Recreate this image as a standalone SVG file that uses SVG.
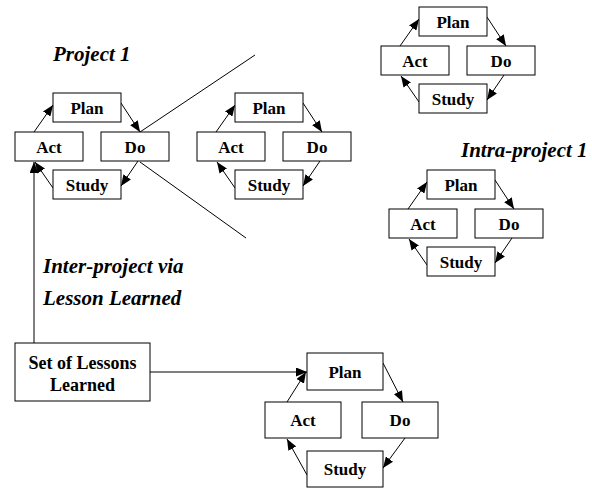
<svg xmlns="http://www.w3.org/2000/svg" width="592" height="489" viewBox="0 0 592 489">
<defs>
<style>
.box{fill:#fff;stroke:#000;stroke-width:1}
.t{font-family:"Liberation Serif","Times New Roman",serif;font-weight:bold;font-size:17px;text-anchor:middle;fill:#000}
.lbl{font-family:"Liberation Serif","Times New Roman",serif;font-weight:bold;font-style:italic;font-size:21px;fill:#000}
.c{fill:none;stroke:#000;stroke-width:1}
.a{fill:none;stroke:#000;stroke-width:1;marker-end:url(#ah)}
</style>
<marker id="ah" viewBox="0 0 11 9" refX="11" refY="4.5" markerWidth="11" markerHeight="9" orient="auto" markerUnits="userSpaceOnUse">
<path d="M0,0 L11,4.5 L0,9 z" fill="#000"/>
</marker>
</defs>
<rect width="592" height="489" fill="#fff"/>

<g id="labels">
<text class="lbl" x="53" y="61">Project 1</text>
<text class="lbl" x="43" y="273">Inter-project via</text>
<text class="lbl" x="43" y="305">Lesson Learned</text>
<text class="lbl" x="461" y="157">Intra-project 1</text>
</g>

<g id="connectors">
<path class="c" d="M140,132 L255,55"/>
<path class="c" d="M140,162 L246,238"/>
<path class="a" d="M34,343 L34,162"/>
<path class="a" d="M150,372 L307,372"/>
<g id="c1-links">
<path class="a" d="M34,132 L53,105"/>
<path class="a" d="M121,103 L140,132"/>
<path class="a" d="M138,161 L121,186"/>
<path class="a" d="M53,188 L35,162"/>
</g>
<g id="c2-links" transform="translate(182,0)">
<path class="a" d="M34,132 L53,105"/>
<path class="a" d="M121,103 L140,132"/>
<path class="a" d="M138,161 L121,186"/>
<path class="a" d="M53,188 L35,162"/>
</g>
<g id="c3-links" transform="translate(366,-86)">
<path class="a" d="M34,132 L53,105"/>
<path class="a" d="M121,103 L140,132"/>
<path class="a" d="M138,161 L121,186"/>
<path class="a" d="M53,188 L35,162"/>
</g>
<g id="c4-links" transform="translate(374,77)">
<path class="a" d="M34,132 L53,105"/>
<path class="a" d="M121,103 L140,132"/>
<path class="a" d="M138,161 L121,186"/>
<path class="a" d="M53,188 L35,162"/>
</g>
<g id="c5-links">
<path class="a" d="M287,402 L306,372"/>
<path class="a" d="M383,363 L403,402"/>
<path class="a" d="M405,438 L383,468"/>
<path class="a" d="M307,475 L287,439"/>
</g>
</g>

<g id="cycle1">
<g id="c1-plan"><rect class="box" x="53" y="93" width="68" height="29"/><text class="t" x="87" y="114">Plan</text></g>
<g id="c1-act"><rect class="box" x="15" y="132" width="68" height="29"/><text class="t" x="49" y="153">Act</text></g>
<g id="c1-do"><rect class="box" x="101" y="132" width="68" height="29"/><text class="t" x="135" y="153">Do</text></g>
<g id="c1-study"><rect class="box" x="53" y="170" width="68" height="29"/><text class="t" x="87" y="191">Study</text></g>
</g>

<g id="cycle2" transform="translate(182,0)">
<g id="c2-plan"><rect class="box" x="53" y="93" width="68" height="29"/><text class="t" x="87" y="114">Plan</text></g>
<g id="c2-act"><rect class="box" x="15" y="132" width="68" height="29"/><text class="t" x="49" y="153">Act</text></g>
<g id="c2-do"><rect class="box" x="101" y="132" width="68" height="29"/><text class="t" x="135" y="153">Do</text></g>
<g id="c2-study"><rect class="box" x="53" y="170" width="68" height="29"/><text class="t" x="87" y="191">Study</text></g>
</g>

<g id="cycle3" transform="translate(366,-86)">
<g id="c3-plan"><rect class="box" x="53" y="93" width="68" height="29"/><text class="t" x="87" y="114">Plan</text></g>
<g id="c3-act"><rect class="box" x="15" y="132" width="68" height="29"/><text class="t" x="49" y="153">Act</text></g>
<g id="c3-do"><rect class="box" x="101" y="132" width="68" height="29"/><text class="t" x="135" y="153">Do</text></g>
<g id="c3-study"><rect class="box" x="53" y="170" width="68" height="29"/><text class="t" x="87" y="191">Study</text></g>
</g>

<g id="cycle4" transform="translate(374,77)">
<g id="c4-plan"><rect class="box" x="53" y="93" width="68" height="29"/><text class="t" x="87" y="114">Plan</text></g>
<g id="c4-act"><rect class="box" x="15" y="132" width="68" height="29"/><text class="t" x="49" y="153">Act</text></g>
<g id="c4-do"><rect class="box" x="101" y="132" width="68" height="29"/><text class="t" x="135" y="153">Do</text></g>
<g id="c4-study"><rect class="box" x="53" y="170" width="68" height="29"/><text class="t" x="87" y="191">Study</text></g>
</g>

<g id="cycle5">
<g id="c5-plan"><rect class="box" x="307" y="353" width="76" height="37"/><text class="t" x="345" y="378">Plan</text></g>
<g id="c5-act"><rect class="box" x="265" y="402" width="76" height="36"/><text class="t" x="303" y="426">Act</text></g>
<g id="c5-do"><rect class="box" x="362" y="402" width="76" height="36"/><text class="t" x="400" y="426">Do</text></g>
<g id="c5-study"><rect class="box" x="307" y="451" width="76" height="36"/><text class="t" x="345" y="475">Study</text></g>
</g>

<g id="lessons">
<rect class="box" x="15" y="343" width="135" height="58"/>
<text class="t" x="82.5" y="369" style="font-size:18px">Set of Lessons</text>
<text class="t" x="82.5" y="391" style="font-size:18px">Learned</text>
</g>
</svg>
